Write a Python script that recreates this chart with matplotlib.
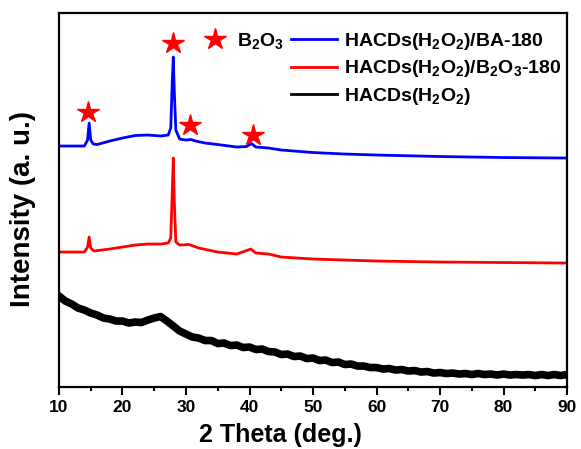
import matplotlib
matplotlib.use("Agg")
import matplotlib.pyplot as plt
from matplotlib.lines import Line2D
from matplotlib.ticker import MultipleLocator

plt.rcParams['font.family'] = ['Liberation Sans', 'DejaVu Sans']
plt.rcParams['font.weight'] = 'bold'
plt.rcParams['mathtext.fontset'] = 'custom'
plt.rcParams['mathtext.rm'] = 'Liberation Sans:bold'
plt.rcParams['mathtext.bf'] = 'Liberation Sans:bold'
plt.rcParams['mathtext.it'] = 'Liberation Sans:bold'

# XRD patterns (stacked, arbitrary units)
ba_x = [10, 12, 14, 14.5, 14.75, 15.0, 15.4, 16, 18, 20, 22, 24, 26, 27.2, 27.6, 27.85,
        28.0, 28.15, 28.4, 29, 30, 30.8, 31.5, 33, 35, 38, 39.5, 40.3, 41, 43, 45, 50,
        55, 60, 70, 80, 90]
ba_y = [241, 241, 241, 247, 264, 247, 243, 242.5, 246, 249, 251.5, 252, 251, 252, 259, 307,
        330, 297, 257, 248, 247, 247.5, 246, 244, 242.5, 240, 240.5, 243.5, 240, 239, 237, 234.5,
        233, 232, 230.5, 229.5, 229]

b2o3_x = [10, 14, 14.5, 14.75, 15.0, 15.5, 18, 20, 22, 24, 26, 27.2, 27.6, 27.85, 28.0,
          28.15, 28.4, 29, 30.5, 32, 35, 38, 40.2, 41, 43, 45, 50, 55, 60, 70, 80, 90]
b2o3_y = [135, 135, 140, 150, 139, 136, 138, 140, 142, 143, 143, 144, 149, 197, 229,
          187, 145, 142, 142.5, 139, 135, 133, 138, 134, 133, 130, 128, 127, 126, 125, 124.5, 124]

raw_x = list(range(10, 91))
raw_y = [91, 86, 83, 79, 77, 74, 72, 69, 68, 66,
         66, 64, 65, 64.5, 67, 69, 70.5, 66, 61, 56,
         53, 50, 49, 46.5, 46.5, 43.5, 44, 41.5, 42, 39.5,
         40, 37.5, 38, 35.5, 35, 32.5, 33, 30.5, 31, 28.5,
         29, 26.5, 27, 24.5, 25, 22.5, 23, 21, 21, 19.5,
         19.5, 18, 18.5, 17, 17.5, 16, 16.5, 15, 15.5, 14,
         14.5, 13.5, 14, 13, 13.5, 12.5, 13.5, 12.5, 13, 12,
         13, 12, 12.5, 12, 12.5, 11.5, 12.5, 11.5, 12.5, 11.5,
         12.5]

# B2O3 peak markers
star_x = [14.6, 27.9, 30.6, 40.5]
star_y = [275, 344, 262, 252]

fig = plt.figure(figsize=(5.81, 4.49), dpi=100)
ax = fig.add_axes([0.1015, 0.138, 0.8745, 0.833])

ax.plot(ba_x, ba_y, color='#0000ff', lw=2.0)
ax.plot(b2o3_x, b2o3_y, color='#ff0000', lw=2.0)
ax.plot(raw_x, raw_y, color='black', lw=5.5)
ax.plot(star_x, star_y, ls='none', marker='*', color='#ff0000', ms=16)

ax.set_xlim(10, 90)
ax.set_ylim(0, 374)
ax.xaxis.set_major_locator(MultipleLocator(10))
ax.xaxis.set_minor_locator(MultipleLocator(5))
ax.tick_params(axis='x', which='major', direction='out', length=6, width=1.5,
               labelsize=12.5, pad=3)
ax.tick_params(axis='x', which='minor', direction='out', length=3, width=1.5)
ax.set_yticks([])
for s in ax.spines.values():
    s.set_linewidth(1.6)

ax.set_xlabel('2 Theta (deg.)', fontsize=18, fontweight='bold')
ax.xaxis.set_label_coords(0.435, -0.095)
ax.set_ylabel('Intensity (a. u.)', fontsize=20, fontweight='bold')
ax.yaxis.set_label_coords(-0.046, 0.476)

leg1 = ax.legend([Line2D([], [], ls='none', marker='*', color='#ff0000', ms=16)],
                 [r'B$_2$O$_3$'], frameon=False, fontsize=14, loc='upper left',
                 bbox_to_anchor=(0.285, 0.952), borderpad=0, borderaxespad=0,
                 handlelength=1.2, handletextpad=0.5)
ax.add_artist(leg1)

handles = [Line2D([], [], color='#0000ff', lw=2.0),
           Line2D([], [], color='#ff0000', lw=2.0),
           Line2D([], [], color='black', lw=2.0)]
labels = [r'HACDs(H$_2$O$_2$)/BA-180',
          r'HACDs(H$_2$O$_2$)/B$_2$O$_3$-180',
          r'HACDs(H$_2$O$_2$)']
ax.legend(handles, labels, frameon=False, fontsize=14, loc='upper left',
          bbox_to_anchor=(0.4567, 0.952), borderpad=0, borderaxespad=0,
          handlelength=2.35, handletextpad=0.35, labelspacing=0.33)

fig.savefig('out.png', dpi=100)
